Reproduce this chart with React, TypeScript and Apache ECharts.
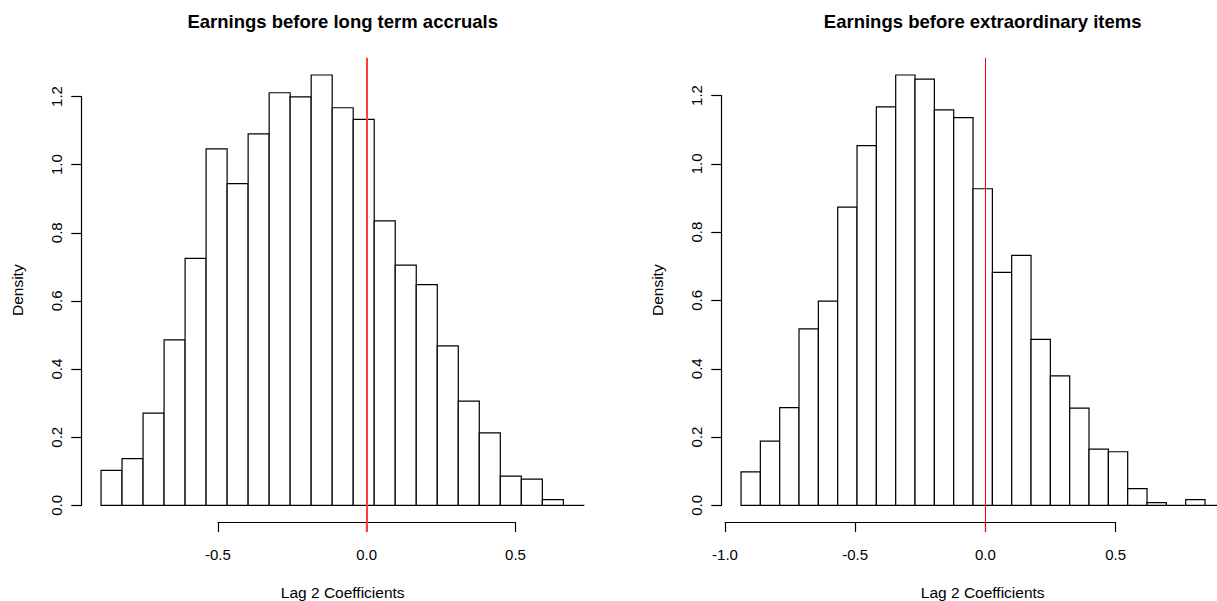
import React, { useEffect, useRef } from "react";
import * as echarts from "echarts";

// ---------- data ----------
const LEFT_TITLE = "Earnings before long term accruals";
const RIGHT_TITLE = "Earnings before extraordinary items";
const X_LABEL = "Lag 2 Coefficients";
const Y_LABEL = "Density";

const LEFT_BREAKS = [
  -0.8925, -0.8219, -0.7513, -0.6807, -0.6101, -0.5395, -0.4689, -0.3983,
  -0.3277, -0.2571, -0.1865, -0.1159, -0.0453, 0.0253, 0.0959, 0.1665,
  0.2371, 0.3077, 0.3783, 0.4489, 0.5195, 0.5901, 0.6607, 0.7313,
];
const LEFT_DENSITY = [
  0.103, 0.137, 0.271, 0.486, 0.725, 1.046, 0.944, 1.09, 1.211, 1.199, 1.263,
  1.167, 1.133, 0.835, 0.705, 0.648, 0.468, 0.306, 0.213, 0.086, 0.077, 0.017,
  0,
];

const RIGHT_BREAKS = [
  -0.9385, -0.8643, -0.79, -0.7158, -0.6415, -0.5673, -0.493, -0.4188,
  -0.3445, -0.2703, -0.196, -0.1218, -0.0475, 0.0268, 0.101, 0.1753, 0.2495,
  0.3238, 0.398, 0.4723, 0.5465, 0.6208, 0.695, 0.7693, 0.8435, 0.9178,
];
const RIGHT_DENSITY = [
  0.098, 0.188, 0.286, 0.517, 0.598, 0.873, 1.053, 1.167, 1.26, 1.248, 1.158,
  1.135, 0.927, 0.682, 0.732, 0.486, 0.379, 0.285, 0.165, 0.157, 0.049, 0.008,
  0, 0.017, 0,
];

const Y_TICK_RANGE = [0, 1.2];
const Y_TICK_STEP = 0.2;
const LEFT_X_TICK_RANGE = [-0.5, 0.5];
const RIGHT_X_TICK_RANGE = [-1.0, 0.5];
const X_TICK_STEP = 0.5;
const REF_LINE_X = 0;

// ---------- layout ----------
const FONT = "'Liberation Sans', Arial, Helvetica, sans-serif";
const PLOT_TOP = 57.8;
const PLOT_BOTTOM = 522.6;
const PLOT_WIDTH = 522;
const TICK_LEN = 9.5;

type PanelCfg = {
  breaks: number[];
  dens: number[];
  plotX: number;
  xTicks: number[];
  title: string;
  refWidth: number;
  refColor: string;
  refOffset: number;
};

function buildPanel(cfg: PanelCfg, idx: number) {
  const { breaks, dens, plotX, xTicks } = cfg;
  const n = breaks.length - 1;
  const r = breaks[n] - breaks[0];
  const xMin = breaks[0] - 0.04 * r;
  const xMax = breaks[n] + 0.04 * r;
  const ymax = Math.max(...dens);
  const yMin = -0.04 * ymax;
  const yMax = 1.04 * ymax;
  const pxPerY = (PLOT_BOTTOM - PLOT_TOP) / (yMax - yMin);
  const y0px = PLOT_BOTTOM + yMin * pxPerY;
  const yTopPx = y0px - Y_TICK_RANGE[1] * pxPerY;
  const xToPx = (v: number) => plotX + ((v - xMin) / (xMax - xMin)) * PLOT_WIDTH;

  const gData = idx * 2;
  const gAxis = idx * 2 + 1;

  const grids = [
    { left: plotX, top: yTopPx, width: PLOT_WIDTH, height: y0px - yTopPx, outerBoundsMode: "none", containLabel: false },
    {
      left: xToPx(xTicks[0]),
      top: PLOT_BOTTOM - 10,
      width: xToPx(xTicks[1]) - xToPx(xTicks[0]),
      height: 10,
      outerBoundsMode: "none",
      containLabel: false,
    },
  ];

  const xAxes = [
    { type: "value", gridIndex: gData, show: false, min: xMin, max: xMax },
    {
      type: "value",
      gridIndex: gAxis,
      min: xTicks[0],
      max: xTicks[1],
      interval: X_TICK_STEP,
      position: "bottom",
      axisLine: { show: true, onZero: false, lineStyle: { color: "#000", width: 1.2 } },
      axisTick: { show: true, inside: false, length: TICK_LEN, lineStyle: { color: "#000", width: 1.2 } },
      axisLabel: {
        show: true,
        margin: 24,
        fontSize: 15,
        fontFamily: FONT,
        color: "#000",
        formatter: (v: number) => v.toFixed(1),
      },
      splitLine: { show: false },
    },
  ];

  const yAxes = [
    {
      type: "value",
      gridIndex: gData,
      min: Y_TICK_RANGE[0],
      max: Y_TICK_RANGE[1],
      interval: Y_TICK_STEP,
      position: "left",
      axisLine: { show: true, onZero: false, lineStyle: { color: "#000", width: 1.2 } },
      axisTick: { show: true, inside: false, length: TICK_LEN + 1, lineStyle: { color: "#000", width: 1.2 } },
      axisLabel: {
        show: true,
        rotate: 90,
        margin: 18,
        fontSize: 15,
        fontFamily: FONT,
        color: "#000",
        formatter: (v: number) => v.toFixed(1),
      },
      splitLine: { show: false },
    },
    { type: "value", gridIndex: gAxis, show: false, min: 0, max: 1 },
  ];

  const barData = dens.map((h, i) => [breaks[i], breaks[i + 1], h]);

  const series = [
    {
      type: "custom",
      xAxisIndex: gData,
      yAxisIndex: gData,
      clip: false,
      silent: true,
      encode: { x: [0, 1], y: 2 },
      data: barData,
      renderItem: (_p: any, api: any) => {
        const x0 = api.value(0);
        const x1 = api.value(1);
        const h = api.value(2);
        const p0 = api.coord([x0, 0]);
        const p1 = api.coord([x1, h]);
        if (h === 0) {
          return {
            type: "line",
            shape: { x1: p0[0], y1: p0[1], x2: p1[0], y2: p0[1] },
            style: { stroke: "#000", lineWidth: 1.2 },
          };
        }
        return {
          type: "rect",
          shape: { x: p0[0], y: p1[1], width: p1[0] - p0[0], height: p0[1] - p1[1] },
          style: { fill: "#fff", stroke: "#000", lineWidth: 1.2 },
        };
      },
    },
    {
      type: "custom",
      xAxisIndex: gData,
      yAxisIndex: gData,
      clip: false,
      silent: true,
      z: 5,
      encode: { x: 0 },
      data: [[REF_LINE_X]],
      renderItem: (_p: any, api: any) => {
        const x = api.value(0);
        const top = api.coord([x, yMax]);
        const bot = api.coord([x, yMin]);
        const px = Math.round(top[0]) + cfg.refOffset;
        return {
          type: "line",
          shape: { x1: px, y1: top[1], x2: px, y2: bot[1] + TICK_LEN },
          style: { stroke: cfg.refColor, lineWidth: cfg.refWidth },
        };
      },
    },
  ];

  const cx = plotX + PLOT_WIDTH / 2;
  const graphics = [
    {
      type: "text",
      x: cx,
      y: 21.5,
      silent: true,
      style: {
        text: cfg.title,
        font: `bold 18.5px ${FONT}`,
        fill: "#000",
        textAlign: "center",
        textVerticalAlign: "middle",
      },
    },
    {
      type: "text",
      x: cx,
      y: 592,
      silent: true,
      style: {
        text: X_LABEL,
        font: `15.5px ${FONT}`,
        fill: "#000",
        textAlign: "center",
        textVerticalAlign: "middle",
      },
    },
    {
      type: "text",
      x: plotX - 64,
      y: (PLOT_TOP + PLOT_BOTTOM) / 2,
      rotation: Math.PI / 2,
      silent: true,
      style: {
        text: Y_LABEL,
        font: `15.5px ${FONT}`,
        fill: "#000",
        textAlign: "center",
        textVerticalAlign: "middle",
      },
    },
  ];

  return { grids, xAxes, yAxes, series, graphics };
}

export default function App() {
  const ref = useRef<HTMLDivElement>(null);

  useEffect(() => {
    if (!ref.current) return;
    const chart = echarts.init(ref.current, null, { renderer: "svg" });

    const panels = [
      buildPanel(
        {
          breaks: LEFT_BREAKS,
          dens: LEFT_DENSITY,
          plotX: 81.7,
          xTicks: LEFT_X_TICK_RANGE,
          title: LEFT_TITLE,
          refWidth: 2,
          refColor: "#ff3b3b",
          refOffset: 0,
        },
        0
      ),
      buildPanel(
        {
          breaks: RIGHT_BREAKS,
          dens: RIGHT_DENSITY,
          plotX: 721.7,
          xTicks: RIGHT_X_TICK_RANGE,
          title: RIGHT_TITLE,
          refWidth: 1,
          refColor: "#ff0000",
          refOffset: 0.5,
        },
        1
      ),
    ];

    const option: any = {
      animation: false,
      backgroundColor: "#ffffff",
      grid: panels.flatMap((p) => p.grids),
      xAxis: panels.flatMap((p) => p.xAxes),
      yAxis: panels.flatMap((p) => p.yAxes),
      series: panels.flatMap((p) => p.series),
      graphic: panels.flatMap((p) => p.graphics),
    };
    chart.setOption(option);
    return () => chart.dispose();
  }, []);

  return (
    <div
      ref={ref}
      style={{ position: "absolute", left: 0, top: 0, width: 1217, height: 601, background: "#fff" }}
    />
  );
}
